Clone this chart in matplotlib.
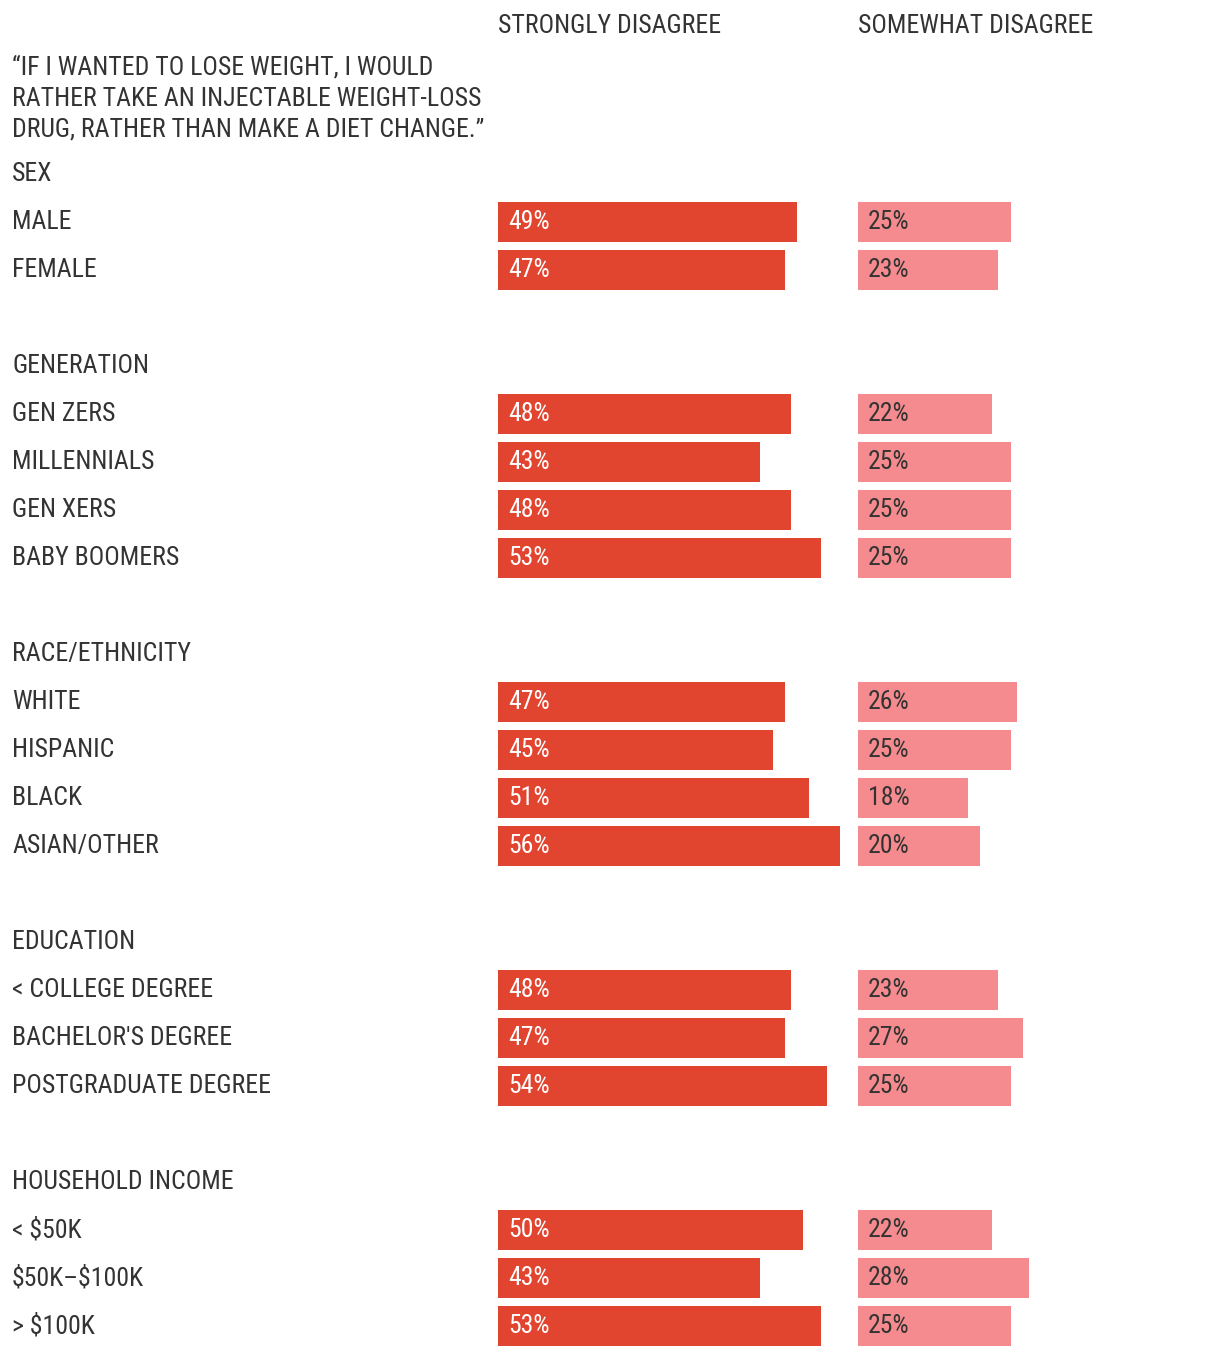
import matplotlib
matplotlib.use("Agg")
import matplotlib.pyplot as plt
from matplotlib import font_manager as fm

names = {f.name for f in fm.fontManager.ttflist}
fams = [n for n in ['Roboto Condensed', 'Liberation Sans Narrow', 'Roboto', 'DejaVu Sans'] if n in names]
plt.rcParams['font.family'] = fams

title_lines = ["“IF I WANTED TO LOSE WEIGHT, I WOULD",
               "RATHER TAKE AN INJECTABLE WEIGHT-LOSS",
               "DRUG, RATHER THAN MAKE A DIET CHANGE.”"]
col_headers = ["STRONGLY DISAGREE", "SOMEWHAT DISAGREE"]

groups = ["SEX", "GENERATION", "RACE/ETHNICITY", "EDUCATION", "HOUSEHOLD INCOME"]
categories = [
    ["MALE", "FEMALE"],
    ["GEN ZERS", "MILLENNIALS", "GEN XERS", "BABY BOOMERS"],
    ["WHITE", "HISPANIC", "BLACK", "ASIAN/OTHER"],
    ["< COLLEGE DEGREE", "BACHELOR'S DEGREE", "POSTGRADUATE DEGREE"],
    ["< $50K", "$50K–$100K", "> $100K"],
]
strongly = [
    [49, 47],
    [48, 43, 48, 53],
    [47, 45, 51, 56],
    [48, 47, 54],
    [50, 43, 53],
]
somewhat = [
    [25, 23],
    [22, 25, 25, 25],
    [26, 25, 18, 20],
    [23, 27, 25],
    [22, 28, 25],
]

W, H = 1220, 1356
fig = plt.figure(figsize=(W / 100, H / 100), dpi=100)
fig.patch.set_facecolor("white")

px = 6.1  # pixels per percentage point
axS = fig.add_axes([498 / W, 0, 60 * px / W, 1])
axM = fig.add_axes([858 / W, 0, 35 * px / W, 1])
axS.set_xlim(0, 60)
axM.set_xlim(0, 35)
for ax in (axS, axM):
    ax.set_ylim(H, 0)
    ax.axis("off")

STRONG = "#E2452F"
SOME = "#F58B8F"
TXT = "#333333"
FS = 18.5

def fy(y):
    return 1 - y / H

kw = dict(fontsize=FS, color=TXT, va="center", ha="left", parse_math=False)
fig.text(498 / W, fy(26), col_headers[0], **kw)
fig.text(858 / W, fy(26), col_headers[1], **kw)
for i, line in enumerate(title_lines):
    fig.text(12 / W, fy(68 + 31 * i), line, **kw)

base = 174
slot = 0
for g, cats, sv, mv in zip(groups, categories, strongly, somewhat):
    yh = base + 48 * slot
    fig.text(12 / W, fy(yh), g, **kw)
    slot += 1
    for c, s, m in zip(cats, sv, mv):
        y = base + 48 * slot
        fig.text(12 / W, fy(y), c, **kw)
        axS.barh(y, s, height=40, left=0, color=STRONG)
        axM.barh(y, m, height=40, left=0, color=SOME)
        axS.text(10 / px, y, f"{s}%", fontsize=FS, color="white", va="center", ha="left")
        axM.text(10 / px, y, f"{m}%", fontsize=FS, color=TXT, va="center", ha="left")
        slot += 1
    slot += 1

fig.savefig("out.png", dpi=100, facecolor="white")
